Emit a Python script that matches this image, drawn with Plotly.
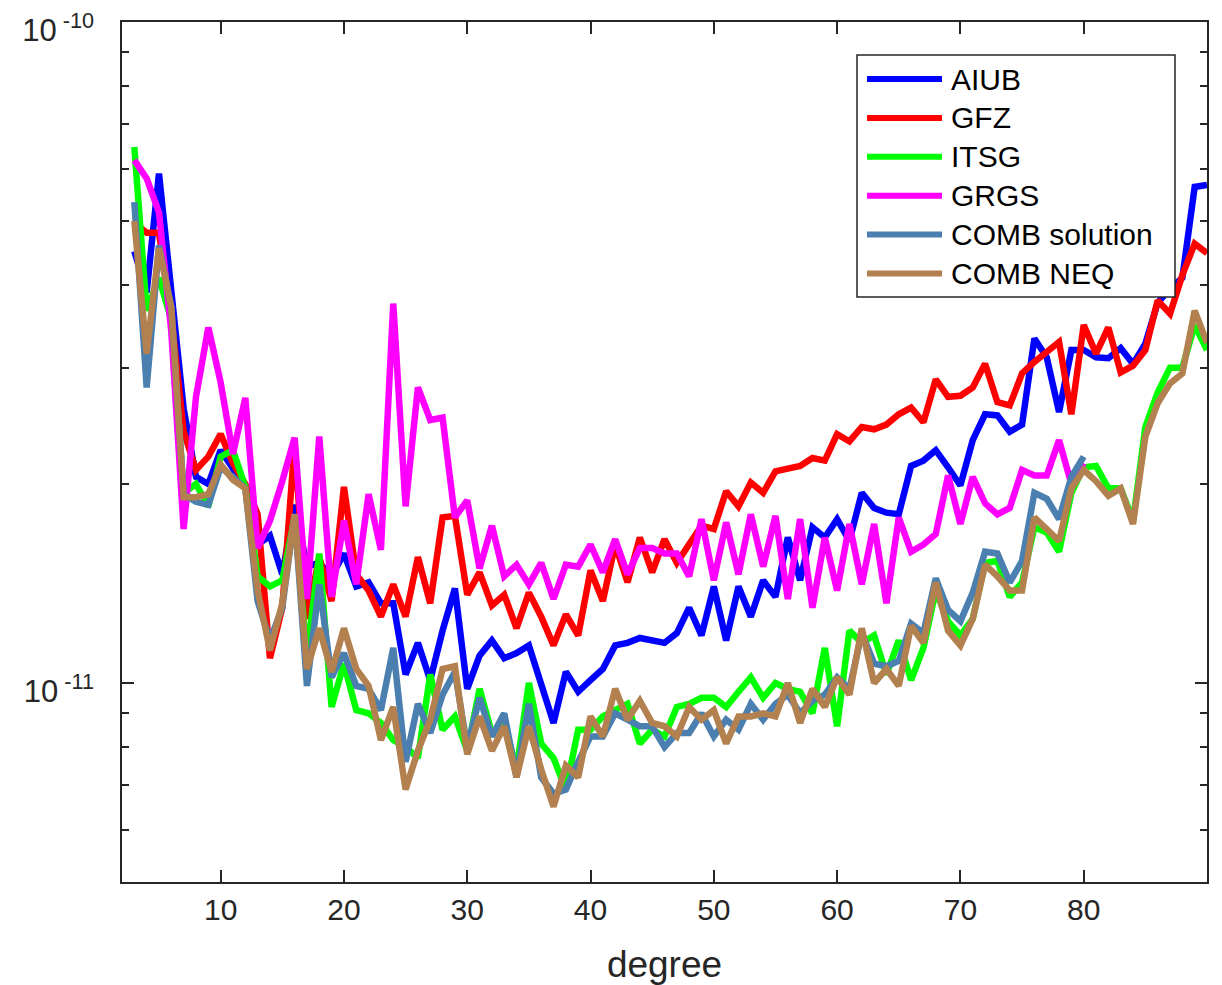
import plotly.graph_objects as go

# spherical harmonic degree
degrees = list(range(3, 91))
degrees_to_80 = list(range(3, 81))
UNIT = 1e-11  # values below are in units of 1e-11

aiub = [4.5, 3.9, 5.9, 4.0, 2.6, 2.05, 2.0, 2.25, 2.1, 1.98,
        1.62, 1.67, 1.46, 1.86, 1.5, 1.52, 1.45, 1.57, 1.40, 1.42,
        1.32, 1.32, 1.03, 1.15, 1.01, 1.2, 1.39, 0.98, 1.10, 1.16,
        1.09, 1.11, 1.14, 1.0, 0.87, 1.04, 0.97, 1.01, 1.05, 1.14,
        1.15, 1.17, 1.16, 1.15, 1.19, 1.30, 1.18, 1.40, 1.16, 1.40,
        1.26, 1.43, 1.35, 1.66, 1.43, 1.72, 1.66, 1.77, 1.64, 1.94,
        1.84, 1.81, 1.80, 2.13, 2.17, 2.25, 2.12, 1.99, 2.33, 2.55,
        2.54, 2.40, 2.46, 3.32, 3.11, 2.57, 3.19, 3.19, 3.11, 3.10,
        3.21, 3.04, 3.26, 3.76, 3.95, 4.1, 5.63, 5.67]

gfz = [4.97, 4.8, 4.8, 3.6, 2.4, 2.1, 2.2, 2.38, 2.15, 2.0,
       1.8, 1.09, 1.3, 2.3, 1.25, 1.55, 1.33, 1.98, 1.46, 1.38,
       1.26, 1.41, 1.26, 1.55, 1.32, 1.78, 1.79, 1.36, 1.47, 1.31,
       1.36, 1.21, 1.37, 1.26, 1.14, 1.27, 1.18, 1.48, 1.33, 1.62,
       1.42, 1.66, 1.47, 1.65, 1.52, 1.62, 1.73, 1.71, 1.95, 1.85,
       2.01, 1.94, 2.09, 2.11, 2.13, 2.19, 2.17, 2.38, 2.32, 2.44,
       2.42, 2.46, 2.55, 2.61, 2.48, 2.88, 2.71, 2.72, 2.80, 3.04,
       2.66, 2.63, 2.94, 3.06, 3.17, 3.28, 2.55, 3.48, 3.15, 3.45,
       2.95, 3.02, 3.19, 3.79, 3.62, 4.14, 4.62, 4.47]

itsg = [6.47, 3.66, 4.1, 3.54, 1.94, 2.0, 1.85, 2.2, 2.25, 1.98,
        1.45, 1.40, 1.43, 1.78, 1.1, 1.57, 0.92, 1.07, 0.91, 0.90,
        0.87, 0.82, 0.80, 0.77, 1.03, 0.85, 0.89, 0.79, 0.98, 0.84,
        0.87, 0.74, 1.0, 0.81, 0.77, 0.69, 0.85, 0.85, 0.89, 0.91,
        0.93, 0.81, 0.85, 0.83, 0.92, 0.93, 0.95, 0.95, 0.92, 0.97,
        1.02, 0.95, 1.0, 0.98, 0.97, 0.90, 1.13, 0.86, 1.20, 1.15,
        1.18, 1.03, 1.16, 1.01, 1.13, 1.38, 1.24, 1.18, 1.25, 1.52,
        1.53, 1.35, 1.42, 1.72, 1.69, 1.58, 1.94, 2.12, 2.13, 1.97,
        1.97, 1.76, 2.44, 2.75, 3.0, 3.0, 3.48, 3.19]

grgs = [6.18, 5.8, 5.15, 3.4, 1.71, 2.71, 3.45, 2.85, 2.22, 2.70,
        1.60, 1.76, 2.02, 2.35, 1.34, 2.36, 1.35, 1.76, 1.41, 1.93,
        1.59, 3.75, 1.85, 2.80, 2.50, 2.52, 1.78, 1.89, 1.49, 1.73,
        1.45, 1.51, 1.41, 1.52, 1.34, 1.51, 1.50, 1.62, 1.47, 1.65,
        1.46, 1.60, 1.60, 1.57, 1.57, 1.45, 1.77, 1.43, 1.75, 1.46,
        1.80, 1.50, 1.79, 1.34, 1.77, 1.30, 1.66, 1.38, 1.74, 1.41,
        1.74, 1.32, 1.78, 1.58, 1.62, 1.68, 2.06, 1.74, 2.05, 1.87,
        1.80, 1.84, 2.10, 2.06, 2.06, 2.33, 2.0, 2.15]

comb_solution = [5.34, 2.80, 4.59, 3.7, 1.93, 1.88, 1.86, 2.12, 2.05, 1.97,
                 1.33, 1.16, 1.30, 1.80, 0.99, 1.41, 1.02, 1.11, 0.99, 0.98,
                 0.91, 1.13, 0.76, 0.93, 0.84, 0.96, 1.04, 0.80, 0.95, 0.83,
                 0.90, 0.72, 0.93, 0.72, 0.68, 0.69, 0.76, 0.83, 0.83, 0.90,
                 0.88, 0.86, 0.86, 0.80, 0.84, 0.84, 0.90, 0.83, 0.88, 0.85,
                 0.93, 0.88, 0.93, 0.96, 0.90, 0.94, 0.96, 1.02, 0.98, 1.19,
                 1.07, 1.06, 1.08, 1.23, 1.19, 1.44, 1.29, 1.24, 1.37, 1.58,
                 1.57, 1.42, 1.53, 1.94, 1.90, 1.77, 2.05, 2.20]

comb_neq = [5.0, 3.15, 4.55, 3.7, 1.91, 1.91, 1.93, 2.14, 2.03, 1.97,
            1.38, 1.12, 1.32, 1.80, 1.05, 1.21, 1.04, 1.21, 1.05, 0.99,
            0.82, 0.92, 0.69, 0.79, 0.88, 1.05, 1.06, 0.78, 0.89, 0.79,
            0.86, 0.72, 0.86, 0.74, 0.65, 0.75, 0.72, 0.89, 0.83, 0.98,
            0.88, 0.94, 0.87, 0.86, 0.83, 0.92, 0.88, 0.91, 0.81, 0.89,
            0.89, 0.90, 0.89, 1.0, 0.87, 0.98, 0.92, 1.02, 0.96, 1.21,
            1.0, 1.05, 0.99, 1.22, 1.15, 1.42, 1.20, 1.14, 1.25, 1.51,
            1.45, 1.38, 1.38, 1.78, 1.71, 1.64, 1.97, 2.10, 2.02, 1.92,
            1.97, 1.74, 2.36, 2.65, 2.84, 2.94, 3.66, 3.27]

names = ["AIUB", "GFZ", "ITSG", "GRGS", "COMB solution", "COMB NEQ"]
colors = ["#0000FF", "#FF0000", "#00FF00", "#FF00FF", "#4A7FB0", "#B3804F"]
xs = [degrees, degrees, degrees, degrees_to_80, degrees_to_80, degrees]
ys = [aiub, gfz, itsg, grgs, comb_solution, comb_neq]

x_ticks = [10, 20, 30, 40, 50, 60, 70, 80, 90]
y_major = [1e-11, 1e-10]
y_major_text = ["10<sup> -11</sup>", "10<sup> -10</sup>"]
y_minor = [m * 1e-12 for m in range(6, 10)] + [m * 1e-11 for m in range(2, 10)]

FONT = "Liberation Sans, Arial, Helvetica, sans-serif"
INK = "#262626"

fig = go.Figure()
for name, x, y, c in zip(names, xs, ys, colors):
    fig.add_trace(go.Scatter(
        x=x, y=[v * UNIT for v in y], mode="lines", name=name,
        line=dict(color=c, width=6.5), showlegend=False))

# The page body adds an 8 px offset; target geometry is in screen pixels.
OFF = 8
W, H = 1222 - OFF, 985 - OFF
PL, PR, PT, PB = 122, 1207, 22, 882       # plot box on screen
L, T = PL - OFF, PT - OFF
pw, ph = PR - PL, PB - PT
R, B = W - L - pw, H - T - ph


def px(xs_):
    return (xs_ - PL) / pw


def py(ys_):
    return (PB - ys_) / ph


# legend box drawn like the original (long line samples)
shapes = [dict(type="rect", xref="paper", yref="paper",
               x0=px(857), x1=px(1175), y0=py(297), y1=py(55),
               line=dict(color=INK, width=1.5), fillcolor="white", layer="above")]
annotations = []
for i, (name, c) in enumerate(zip(names, colors)):
    yy = 79 + 38.9 * i
    shapes.append(dict(type="line", xref="paper", yref="paper",
                       x0=px(867), x1=px(942), y0=py(yy), y1=py(yy),
                       line=dict(color=c, width=6), layer="above"))
    annotations.append(dict(xref="paper", yref="paper", x=px(949), y=py(yy),
                            xanchor="left", yanchor="middle", text=name,
                            showarrow=False, font=dict(size=30, color="black", family=FONT)))

fig.update_layout(
    width=W, height=H,
    margin=dict(l=L, r=R, t=T, b=B, autoexpand=False),
    paper_bgcolor="white", plot_bgcolor="white",
    font=dict(family=FONT, size=30, color=INK),
    shapes=shapes, annotations=annotations,
    showlegend=False,
)
fig.update_xaxes(
    range=[2, 90], tickmode="array", tickvals=x_ticks,
    ticks="inside", ticklen=12, tickwidth=1.5, tickcolor=INK,
    showline=True, linecolor=INK, linewidth=1.5, mirror="ticks",
    showgrid=False, zeroline=False, automargin=False,
    tickfont=dict(size=30, color=INK),
    title=dict(text="degree", font=dict(size=37, color=INK), standoff=28),
)
fig.update_yaxes(
    type="log", range=[-11.30103, -10],
    tickmode="array", tickvals=y_major, ticktext=y_major_text,
    ticks="inside", ticklen=12, tickwidth=1.5, tickcolor=INK,
    minor=dict(tickmode="array", tickvals=y_minor, ticks="inside",
               ticklen=7, tickwidth=1.5, tickcolor=INK, showgrid=False),
    showline=True, linecolor=INK, linewidth=1.5, mirror="ticks",
    showgrid=False, zeroline=False, automargin=False,
    tickfont=dict(size=31, color=INK),
    ticklabelstandoff=20, ticklabelshift=8, ticklabeloverflow="allow",
)

fig.write_html("out.html")
